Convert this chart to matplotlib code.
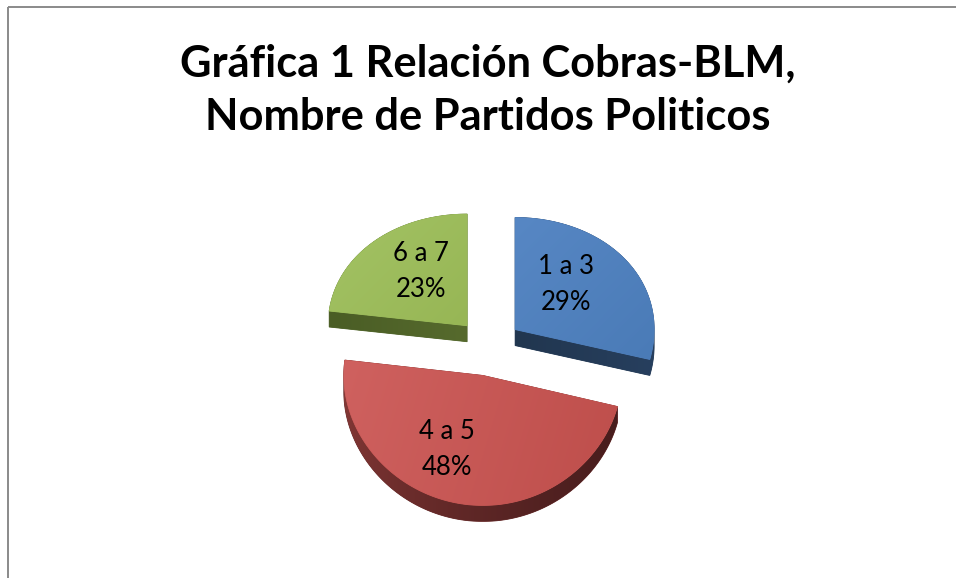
import numpy as np
import matplotlib
matplotlib.use("Agg")
import matplotlib.pyplot as plt
from matplotlib.patches import Polygon, Rectangle
from matplotlib.colors import to_rgb

# ---------------- data ----------------
categories = ["1 a 3", "4 a 5", "6 a 7"]
values = [29, 48, 23]
title_lines = ["Gráfica 1 Relación Cobras-BLM,", "Nombre de Partidos Politicos"]

# ---------------- style ----------------
top_light = ["#5787C4", "#CF615F", "#A3C364"]
top_dark = ["#4A7BB7", "#BE4E4B", "#97B655"]
side_light = ["#21364F", "#853836", "#4A5D25"]
side_dark = ["#273F5E", "#481D1D", "#566A2D"]
top_dir = [(1, 1), (1, 0.3), (1, 1)]
side_dir = [(1, 0), (1, 0), (1, 0)]
side_gamma = [1.0, 0.6, 1.0]
label_dx = [-16, -20, 10]
title_baselines = [77, 130]

W, H = 956, 578
CX, CY = 489, 347
RX, AY, BY = 139, 120.4, 6.5
EXPLODE = 0.238
DEPTH = 16
LABEL_R = 0.61


def proj(X, Y):
    X = np.asarray(X, float)
    Y = np.asarray(Y, float)
    return CX + RX * X, CY - AY * Y + BY * Y ** 2


def hull(pts):
    p = sorted(map(tuple, pts))
    def cross(o, a, b):
        return (a[0] - o[0]) * (b[1] - o[1]) - (a[1] - o[1]) * (b[0] - o[0])
    lower, upper = [], []
    for q in p:
        while len(lower) >= 2 and cross(lower[-2], lower[-1], q) <= 0:
            lower.pop()
        lower.append(q)
    for q in reversed(p):
        while len(upper) >= 2 and cross(upper[-2], upper[-1], q) <= 0:
            upper.pop()
        upper.append(q)
    return np.array(lower[:-1] + upper[:-1])


def grad_fill(ax, pts, c1, c2, d, zorder, gamma=1.0):
    c1 = np.array(to_rgb(c1))
    c2 = np.array(to_rgb(c2))
    mid = (c1 + c2) / 2
    poly = Polygon(pts, closed=True, fc=mid, ec=mid, lw=0.6, zorder=zorder)
    ax.add_patch(poly)
    x0, y0 = pts.min(0)
    x1, y1 = pts.max(0)
    nx = int(x1 - x0) + 2
    ny = int(y1 - y0) + 2
    xs = np.linspace(x0, x1, nx)
    ys = np.linspace(y0, y1, ny)
    XX, YY = np.meshgrid(xs, ys)
    pr = (XX - x0) * d[0] + (YY - y0) * d[1]
    t = (pr - pr.min()) / (pr.max() - pr.min() + 1e-9)
    t = t ** gamma
    img = c1[None, None, :] * (1 - t[..., None]) + c2[None, None, :] * t[..., None]
    im = ax.imshow(img, extent=(x0, x1, y1, y0), origin="upper", aspect="auto",
                   interpolation="bilinear", zorder=zorder + 0.1)
    im.set_clip_path(poly)


fig = plt.figure(figsize=(W / 100, H / 100), dpi=100)
fig.patch.set_facecolor("white")
ax = fig.add_axes([0, 0, 1, 1])
ax.axis("off")

vals = np.array(values, float)
fr = vals / vals.sum()
cum = np.concatenate([[0], np.cumsum(fr)])
t1 = 90 - 360 * cum[:-1]
t2 = 90 - 360 * cum[1:]
mids = (t1 + t2) / 2

tops = []
for i in range(len(values)):
    m = np.radians(mids[i])
    ex, ey = EXPLODE * np.cos(m), EXPLODE * np.sin(m)
    th = np.radians(np.linspace(t1[i], t2[i], 160))
    X = np.concatenate([[ex], ex + np.cos(th)])
    Y = np.concatenate([[ey], ey + np.sin(th)])
    u, v = proj(X, Y)
    pts = np.column_stack([u, v])
    tops.append(pts)
    side = hull(np.vstack([pts, pts + [0, DEPTH]]))
    grad_fill(ax, side, side_light[i], side_dark[i], side_dir[i], 1, side_gamma[i])

for i, pts in enumerate(tops):
    grad_fill(ax, pts, top_light[i], top_dark[i], top_dir[i], 2)

# labels
fig.canvas.draw()
r = fig.canvas.get_renderer()
for i, cat in enumerate(categories):
    m = np.radians(mids[i])
    ex, ey = EXPLODE * np.cos(m), EXPLODE * np.sin(m)
    lu, lv = proj(ex + LABEL_R * np.cos(m), ey + LABEL_R * np.sin(m))
    pct = f"{fr[i] * 100:.0f}%"
    t = ax.text(lu + label_dx[i], lv - 2, f"{cat}\n{pct}", ha="center", va="center",
                multialignment="center", fontsize=18.5, family="Lato", color="black",
                zorder=5)
    _, h, d = r.get_text_width_height_descent("lp", t.get_fontproperties(), ismath=False)
    t.set_linespacing(31 / (h - d))

# title (two centred lines)
titles = []
for line, yb in zip(title_lines, title_baselines):
    titles.append(ax.text(488, yb, line, ha="center", va="baseline", fontsize=30,
                          family="Lato", fontweight="bold", color="black", zorder=5))
fig.canvas.draw()
w = titles[0].get_window_extent(r).width
for t in titles:
    t.set_fontsize(30 * 613 / w)

# chart border
ax.add_patch(Rectangle((8.5, 6.5), 2000, 2000, fill=False, ec="#8a8a8a", lw=1.4, zorder=0))

ax.set_xlim(0, W)
ax.set_ylim(H, 0)
fig.savefig("out.png", dpi=100, facecolor="white")
